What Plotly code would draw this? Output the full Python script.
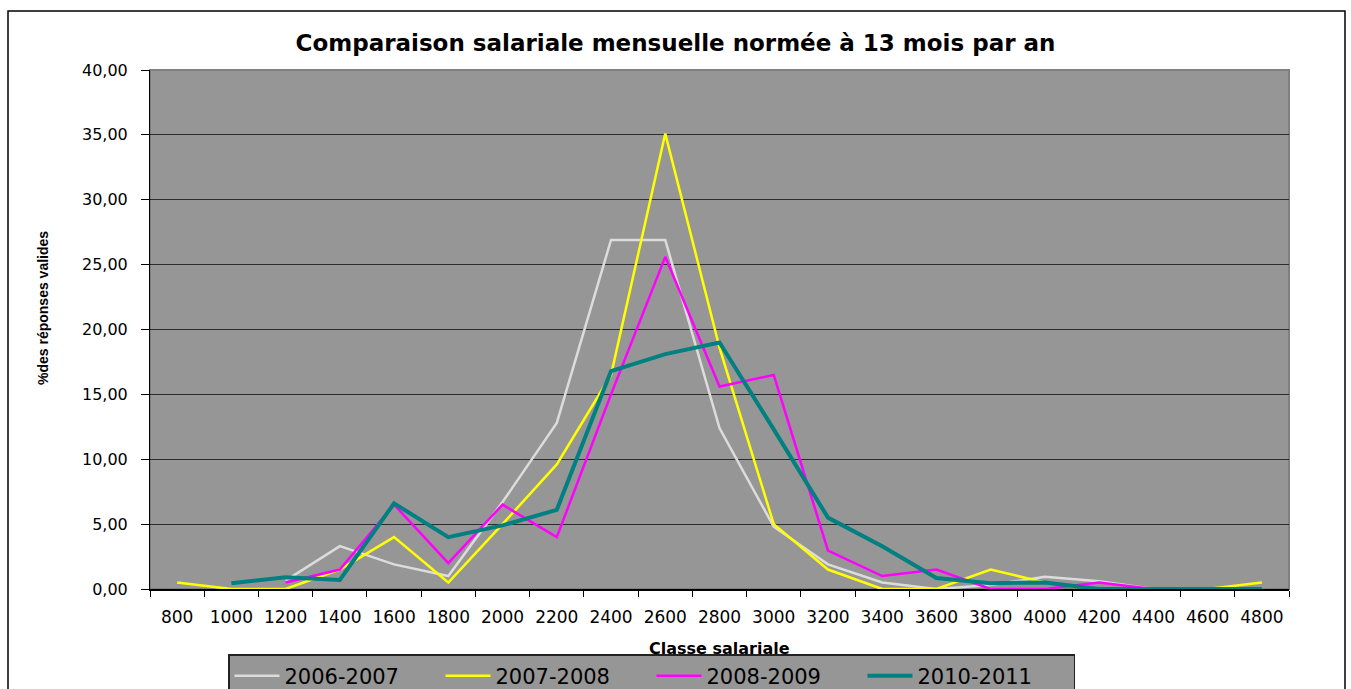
import plotly.graph_objects as go

categories = ["800", "1000", "1200", "1400", "1600", "1800", "2000", "2200", "2400", "2600",
              "2800", "3000", "3200", "3400", "3600", "3800", "4000", "4200", "4400", "4600", "4800"]

s2006_2007 = [None, None, 0.65, 3.3, 1.9, 1.0, 6.7, 12.8, 26.9, 26.9, 12.4, 4.8, 1.9, 0.5, 0.0,
              0.3, 0.95, 0.6, 0.0, 0.0, 0.0]
s2007_2008 = [0.5, 0.0, 0.0, 1.5, 4.0, 0.5, 5.0, 9.6, 16.5, 35.1, 18.6, 5.0, 1.5, 0.0, 0.0,
              1.5, 0.5, 0.0, 0.0, 0.0, 0.5]
s2008_2009 = [None, None, 0.5, 1.5, 6.5, 2.0, 6.5, 4.0, 15.0, 25.6, 15.6, 16.5, 2.95, 1.0, 1.5,
              0.0, 0.0, 0.5, 0.0, 0.0, 0.0]
s2010_2011 = [None, 0.45, 0.9, 0.7, 6.6, 4.0, 4.9, 6.1, 16.8, 18.1, 19.0, 12.3, 5.5, 3.3, 0.85,
              0.45, 0.5, 0.0, 0.0, 0.0, 0.0]

series_names = ["2006-2007", "2007-2008", "2008-2009", "2010-2011"]
series_values = [s2006_2007, s2007_2008, s2008_2009, s2010_2011]
series_colors = ["#DCDCDC", "#FFFF00", "#FF00FF", "#008080"]
series_widths = [2.5, 2.5, 2.5, 4]

title_text = "Comparaison salariale mensuelle normée à 13 mois par an"
x_title = "Classe salariale"
y_title = "%des réponses valides"

W, H = 1351, 689
L, R, T, B = 150, 62, 70, 100
pw, ph = W - L - R, H - T - B


def px_x(p):
    return (p - L) / pw


def px_y(p):
    return (H - B - p) / ph


fig = go.Figure()
for name, vals, col, wd in zip(series_names, series_values, series_colors, series_widths):
    fig.add_trace(go.Scatter(x=categories, y=vals, mode="lines", name=name,
                             line=dict(color=col, width=wd), connectgaps=False))

fig.update_layout(
    width=W, height=H,
    margin=dict(l=L, r=R, t=T, b=B, autoexpand=False),
    paper_bgcolor="white",
    plot_bgcolor="#969696",
    separators=", ",
    showlegend=True,
    title=dict(text=title_text, x=0.5, xref="container", xanchor="center",
               y=1 - 43 / H, yref="container", yanchor="middle",
               font=dict(family="DejaVu Sans", size=23, color="black", weight="bold")),
    legend=dict(orientation="h", x=228 / W, xref="container", xanchor="left",
                y=1 - 654 / H, yref="container", yanchor="top",
                bgcolor="#969696", bordercolor="#222222", borderwidth=1.5,
                font=dict(family="DejaVu Sans", size=21, color="black"),
                itemwidth=45, entrywidth=151, tracegroupgap=0, traceorder="normal"),
    xaxis=dict(type="category", range=[-0.5, 20.5], showgrid=False, tickson="boundaries",
               ticks="outside", ticklen=6, tickcolor="black", showline=True, linecolor="black",
               linewidth=1.5, ticklabelstandoff=12,
               tickfont=dict(family="DejaVu Sans", size=17, color="black"), zeroline=False),
    yaxis=dict(range=[0, 40], dtick=5, tick0=0, tickformat=".2f", showgrid=True,
               gridcolor="#2b2b2b", gridwidth=1, ticks="outside", ticklen=8, tickcolor="black",
               showline=True, linecolor="black", linewidth=1, ticklabelstandoff=10,
               tickfont=dict(family="DejaVu Sans", size=16, color="black"), zeroline=False),
    annotations=[
        dict(text=x_title, xref="paper", yref="paper", x=0.5, y=px_y(648),
             xanchor="center", yanchor="middle", showarrow=False,
             font=dict(family="DejaVu Sans", size=16, color="black", weight="bold")),
        dict(text=y_title, xref="paper", yref="paper", x=px_x(43), y=px_y(308),
             xanchor="center", yanchor="middle", showarrow=False, textangle=-90,
             font=dict(family="Liberation Sans Narrow, Liberation Sans", size=14,
                       color="black", weight="bold")),
    ],
    shapes=[
        dict(type="rect", xref="paper", yref="paper", x0=px_x(8), x1=px_x(1345),
             y0=px_y(720), y1=px_y(11), line=dict(color="black", width=1.5),
             fillcolor="rgba(0,0,0,0)", layer="below"),
        dict(type="rect", xref="paper", yref="paper", x0=0, x1=1, y0=0, y1=1,
             line=dict(color="#7f7f7f", width=2), fillcolor="rgba(0,0,0,0)", layer="below"),
    ],
)

fig.write_html("out.html", config={"displayModeBar": False},
               post_script="document.body.style.margin='0';")
